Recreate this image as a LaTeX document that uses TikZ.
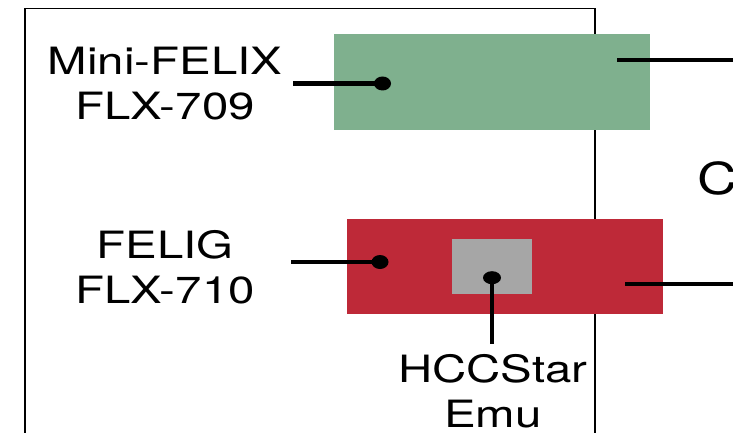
\documentclass[tikz,border=0pt]{standalone}
\usepackage{fontspec}
\setmainfont[FakeStretch=1.26]{TeX Gyre Heros}
\usetikzlibrary{shapes.geometric}
\definecolor{felixgreen}{RGB}{127,176,142}
\definecolor{feligred}{RGB}{190,41,56}
\definecolor{emugray}{RGB}{166,166,166}
\begin{document}
\begin{tikzpicture}[x=1pt,y=-1pt,
  frame/.style={line width=1.6pt},
  board/.style={draw=none,inner sep=0pt,outer sep=0pt,anchor=north west},
  wire/.style={line width=4.6pt},
  blob/.style={ellipse,fill=black,inner sep=0pt,minimum width=17pt,minimum height=14pt},
  lbl/.style={font=\fontsize{37.6}{45}\selectfont,align=center,inner sep=0pt}]
\useasboundingbox (0,0) rectangle (733,433);
\clip (0,0) rectangle (733,433);
% frame
\draw[frame] (25,440) -- (25,8.5) -- (594.7,8.5) -- (594.7,440);
% boards
\node[board,fill=felixgreen,minimum width=316pt,minimum height=95.4pt] (mf) at (334,34.3) {};
\node[board,fill=feligred,minimum width=316.2pt,minimum height=95pt] (fg) at (346.5,218.7) {};
\node[board,fill=emugray,minimum width=80pt,minimum height=55pt] (emu) at (452,239.3) {};
% labels (base = baseline of the last line)
\node[lbl,anchor=base] (mfl) at (165,120) {Mini-FELIX\\FLX-709};
\node[lbl,anchor=base] (fgl) at (165,303) {FELIG\\FLX-710};
\node[lbl,anchor=base,text depth=0pt] (emul) at (493,427) {HCCStar\\Emu};
\node[font=\fontsize{44}{50}\selectfont,inner sep=0pt,anchor=base west] (cl) at (697,194.5) {C};
% connectors
\coordinate (mfA) at (293,83.5);
\node[blob] (mfD) at (382.5,83.5) {};
\draw[wire] (mfA) -- (mfD.center);
\coordinate (mfB) at (617,60);
\coordinate (mfC) at (740,60);
\draw[wire] (mfB) -- (mfC);
\coordinate (fgA) at (291,262);
\node[blob] (fgD) at (380,262) {};
\draw[wire] (fgA) -- (fgD.center);
\coordinate (fgB) at (625.3,283.8);
\coordinate (fgC) at (740,283.8);
\draw[wire] (fgB) -- (fgC);
\node[blob,minimum width=18pt,minimum height=13pt] (emuD) at (492,277.7) {};
\coordinate (emuA) at (492,344);
\draw[wire] (emuD.center) -- (emuA);
\end{tikzpicture}
\end{document}
